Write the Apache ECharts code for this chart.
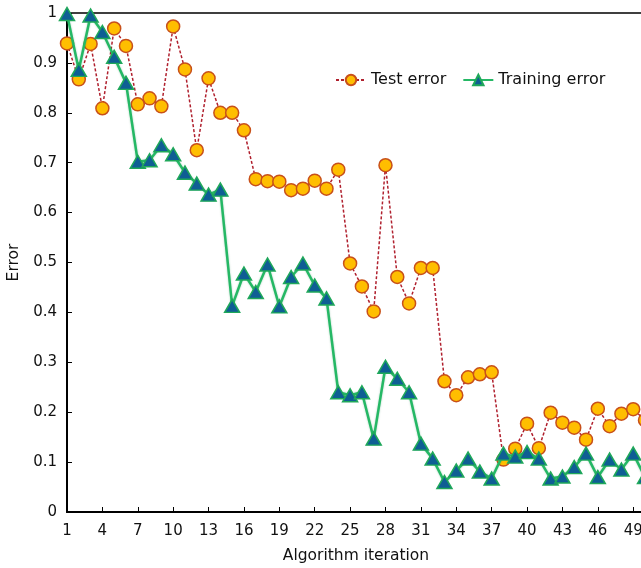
<!DOCTYPE html>
<html>
<head>
<meta charset="utf-8">
<script src="https://cdn.jsdelivr.net/npm/echarts@6/dist/echarts.min.js"></script>
<style>html,body{margin:0;padding:0;background:#fff}#c{width:641px;height:568px}</style>
</head>
<body>
<div id="c"></div>
<script>
var categories = [];
for (var k = 1; k <= 50; k++) categories.push(String(k));

var testError = [0.939,0.867,0.938,0.809,0.969,0.934,0.817,0.829,0.813,0.973,
0.887,0.725,0.869,0.800,0.800,0.765,0.667,0.663,0.662,0.645,
0.648,0.664,0.648,0.686,0.498,0.452,0.402,0.695,0.471,0.418,
0.489,0.489,0.262,0.234,0.270,0.276,0.280,0.105,0.127,0.177,
0.128,0.199,0.179,0.169,0.145,0.207,0.172,0.197,0.206,0.184];

var trainingError = [0.998,0.886,0.995,0.962,0.912,0.860,0.702,0.705,0.735,0.717,
0.680,0.658,0.636,0.646,0.413,0.478,0.441,0.496,0.412,0.471,
0.498,0.454,0.428,0.240,0.234,0.240,0.147,0.291,0.267,0.240,
0.137,0.107,0.060,0.083,0.107,0.081,0.067,0.117,0.111,0.120,
0.107,0.067,0.071,0.090,0.117,0.070,0.105,0.085,0.117,0.070];

var font = 'DejaVu Sans, Verdana, sans-serif';
var fs = 15;
var chart = echarts.init(document.getElementById('c'));
chart.setOption({
  animation: false,
  backgroundColor: '#fff',
  textStyle: { fontFamily: font },
  grid: { left: 67, top: 13, width: 578, height: 499, outerBoundsMode: 'none', containLabel: false,
          show: true, borderColor: '#000', borderWidth: 1.5 },
  legend: {
    left: 335, top: 72, padding: 0, itemWidth: 30, itemHeight: 13, itemGap: 16,
    textStyle: { fontFamily: font, fontSize: 16, color: '#111' },
    data: ['Test error', 'Training error']
  },
  xAxis: {
    type: 'category', data: categories, boundaryGap: false,
    name: 'Algorithm iteration', nameLocation: 'middle', nameGap: 36,
    nameTextStyle: { fontFamily: font, fontSize: 15.5, color: '#111' },
    axisLine: { lineStyle: { color: '#000', width: 2 } },
    axisTick: { inside: true, length: 5, interval: 2, alignWithLabel: true, lineStyle: { color: '#000' } },
    axisLabel: { interval: 2, margin: 12, fontFamily: font, fontSize: fs, color: '#111' },
    splitLine: { show: false }
  },
  yAxis: {
    type: 'value', min: 0, max: 1, interval: 0.1,
    name: 'Error', nameLocation: 'middle', nameGap: 33, nameRotate: 90,
    nameTextStyle: { fontFamily: font, fontSize: 15.5, color: '#111' },
    axisLine: { show: true, lineStyle: { color: '#000', width: 2 } },
    axisTick: { show: true, inside: true, length: 5, lineStyle: { color: '#000' } },
    axisLabel: { margin: 10, fontFamily: font, fontSize: fs, color: '#111',
      formatter: function (v) { return String(Math.round(v * 10) / 10); } },
    splitLine: { show: false }
  },
  series: [
    {
      name: 'Test error', type: 'line', data: testError,
      symbol: 'circle', symbolSize: 13, showAllSymbol: true,
      lineStyle: { color: '#B0202E', width: 1.5, type: [3, 2] },
      itemStyle: { color: '#FFBE00', borderColor: '#C8501A', borderWidth: 1.5 },
      z: 2
    },
    {
      name: 'Training error', type: 'line', data: trainingError,
      symbol: 'triangle', symbolSize: [15, 13], showAllSymbol: true,
      lineStyle: { color: '#25B865', width: 2.5, shadowColor: 'rgba(0,120,60,0.35)', shadowBlur: 2 },
      itemStyle: { color: '#0F5E94', borderColor: '#1FA85A', borderWidth: 1.5 },
      z: 3
    }
  ]
});
</script>
</body>
</html>
